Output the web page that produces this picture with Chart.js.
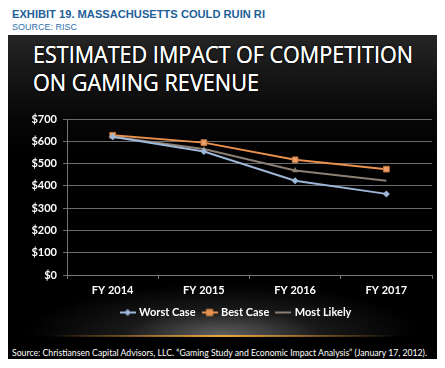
<!DOCTYPE html>
<html>
<head>
<meta charset="utf-8">
<script src="https://cdn.jsdelivr.net/npm/chart.js@4.4.0/dist/chart.umd.min.js"></script>
<style>
  html,body{margin:0;padding:0;background:#fff;width:445px;height:368px;overflow:hidden;}
  .abs{position:absolute;white-space:nowrap;}
  .fit{display:inline-block;transform-origin:0 50%;}
  #h1{left:12px;top:8px;font:bold 11.5px "Liberation Sans",Arial,sans-serif;color:#1d5f99;}
  #h2{left:12px;top:21px;font:9.5px "Liberation Sans",Arial,sans-serif;color:#2f6fae;}
  #panel{position:absolute;left:8px;top:35px;width:429px;height:324px;
    background:linear-gradient(to bottom,#262626 0px,#161616 40px,#060606 85px,#000 120px,#000 100%);overflow:hidden;}
  #glow{position:absolute;left:0;top:248px;width:429px;height:53px;
    background:radial-gradient(ellipse 46% 100% at 50% 100%,rgba(140,140,140,0.7),rgba(70,70,70,0.35) 50%,rgba(0,0,0,0) 100%);}
  #oline{position:absolute;left:40px;top:300px;width:350px;height:2px;
    background:linear-gradient(to right,rgba(200,130,40,0),rgba(240,165,60,1) 50%,rgba(200,130,40,0));}
  .title{left:25px;font:23px "Open Sans",Lato,sans-serif;color:#fff;
    text-shadow:0 0 0.5px #fff,0 0 3px rgba(0,0,0,0.9);}
  #t1{top:3px;}
  #t2{top:31px;}
  #src{left:4px;top:311px;font:10px Lato,"Open Sans",sans-serif;color:#fff;}
  #c{position:absolute;left:0;top:65px;}
</style>
</head>
<body>
<div class="abs" id="h1"><span class="fit" data-w="253">EXHIBIT 19. MASSACHUSETTS COULD RUIN RI</span></div>
<div class="abs" id="h2"><span class="fit" data-w="65">SOURCE: RISC</span></div>
<div id="panel">
  <div id="glow"></div>
  <div id="oline"></div>
  <div class="abs title" id="t1"><span class="fit" data-w="380">ESTIMATED IMPACT OF COMPETITION</span></div>
  <div class="abs title" id="t2"><span class="fit" data-w="226">ON GAMING REVENUE</span></div>
  <canvas id="c" width="429" height="228"></canvas>
  <div class="abs" id="src"><span class="fit" data-w="415">Source: Christiansen Capital Advisors, LLC. “Gaming Study and Economic Impact Analysis” (January 17, 2012).</span></div>
</div>
<script>
const categories = ["FY 2014", "FY 2015", "FY 2016", "FY 2017"];
const worstCase = [620, 554, 423, 364];
const bestCase = [627, 594, 517, 475];
const mostLikely = [620, 565, 469, 423];
const seriesNames = ["Worst Case", "Best Case", "Most Likely"];
const yTicks = [0, 100, 200, 300, 400, 500, 600, 700];

document.querySelectorAll('.fit').forEach(el => {
  const w = el.getBoundingClientRect().width;
  const t = +el.dataset.w;
  el.style.transform = 'scaleX(' + (t / w) + ')';
});

const colWorst = '#9db7d8', colBest = '#e8914e', colMost = '#8c7f72';

function legendIcon(color, marker) {
  const c = document.createElement('canvas');
  c.width = 16; c.height = 10;
  const g = c.getContext('2d');
  g.strokeStyle = color; g.lineWidth = 2;
  g.beginPath(); g.moveTo(0, 5); g.lineTo(16, 5); g.stroke();
  g.fillStyle = color;
  if (marker === 'diamond') {
    g.beginPath(); g.moveTo(8, 1.5); g.lineTo(11.5, 5); g.lineTo(8, 8.5); g.lineTo(4.5, 5); g.closePath(); g.fill();
  } else if (marker === 'square') {
    g.fillRect(4.5, 1.5, 7, 7);
  }
  return c;
}
const icons = [legendIcon(colWorst, 'diamond'), legendIcon(colBest, 'square'), legendIcon(colMost, null)];

const legendShift = {
  id: 'legendShift',
  beforeDraw(chart) {
    const lg = chart.legend;
    if (lg && !lg._shifted) {
      const orig = lg.draw.bind(lg);
      lg.draw = function(area) {
        const ctx = chart.ctx;
        ctx.save(); ctx.translate(14, 0); orig(area); ctx.restore();
      };
      lg._shifted = true;
    }
  }
};

new Chart(document.getElementById('c'), {
  type: 'line',
  plugins: [legendShift],
  data: {
    labels: categories,
    datasets: [
      {label: seriesNames[0], data: worstCase, borderColor: colWorst, backgroundColor: colWorst,
       borderWidth: 2, pointStyle: 'rectRot', pointRadius: 3.5, pointBorderWidth: 0},
      {label: seriesNames[1], data: bestCase, borderColor: colBest, backgroundColor: '#eaa16a',
       borderWidth: 2, pointStyle: 'rect', pointRadius: 4, pointBorderWidth: 1, pointBorderColor: '#c9763c'},
      {label: seriesNames[2], data: mostLikely, borderColor: colMost, backgroundColor: colMost,
       borderWidth: 2, pointStyle: 'triangle', pointRadius: [3, 3, 3.5, 0], pointBorderWidth: 0}
    ]
  },
  options: {
    responsive: false,
    animation: false,
    layout: {padding: {left: 0, right: 0, top: 19, bottom: 0}},
    plugins: {
      tooltip: {enabled: false},
      legend: {
        position: 'bottom',
        labels: {
          color: '#fff',
          font: {family: 'Lato', size: 11, weight: 'bold'},
          usePointStyle: true,
          pointStyleWidth: 12,
          padding: 8,
          generateLabels: chart => chart.data.datasets.map((d, i) => ({
            text: d.label, pointStyle: icons[i], fillStyle: d.borderColor, strokeStyle: d.borderColor,
            fontColor: '#fff', lineWidth: 0, datasetIndex: i, hidden: false
          }))
        }
      }
    },
    scales: {
      x: {
        offset: true,
        grid: {drawOnChartArea: false, offset: true, tickLength: 4, color: '#777'},
        border: {color: '#777'},
        ticks: {color: '#fff', font: {family: 'Lato', size: 11, weight: 'bold'}, padding: 5, maxRotation: 0},
        afterFit: s => { s.height = 24; }
      },
      y: {
        min: 0, max: 700,
        afterBuildTicks: s => { s.ticks = yTicks.map(v => ({value: v})); },
        grid: {color: '#6a6a6a', tickLength: 4, lineWidth: 1},
        border: {color: '#777'},
        ticks: {color: '#fff', font: {family: 'Lato', size: 11, weight: 'bold'}, padding: 6,
                callback: v => '$' + v},
        afterFit: s => { s.width = 59; }
      }
    }
  }
});
</script>
</body>
</html>
